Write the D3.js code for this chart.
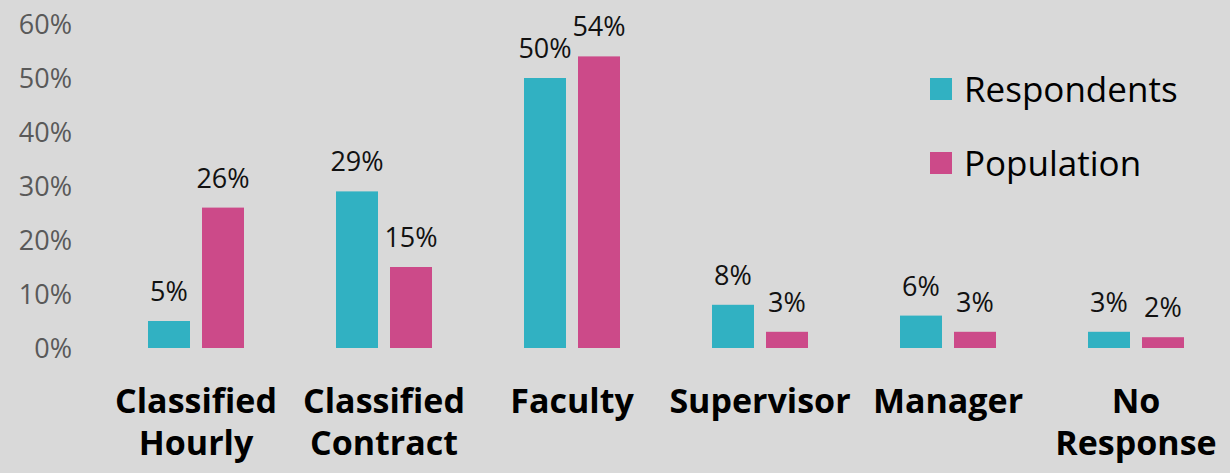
<!DOCTYPE html>
<html>
<head>
<meta charset="utf-8">
<script src="https://cdn.jsdelivr.net/npm/d3@7/dist/d3.min.js"></script>
<style>
  html, body { margin: 0; padding: 0; background: #d9d9d9; }
  svg { display: block; }
</style>
</head>
<body>
<svg id="chart" width="1230" height="473"></svg>
<script>
// Staff categories (multi-line labels split on "\n")
const categories = ["Classified\nHourly", "Classified\nContract", "Faculty", "Supervisor", "Manager", "No\nResponse"];
const seriesNames = ["Respondents", "Population"];
const respondents = [5, 29, 50, 8, 6, 3];
const population = [26, 15, 54, 3, 3, 2];
const yTicks = [0, 10, 20, 30, 40, 50, 60];

const colors = { Respondents: "#31b1c2", Population: "#cc4a89" };
const fontFamily = "'Open Sans', 'Noto Sans', sans-serif";

const svg = d3.select("#chart");
const W = 1230, H = 473;

svg.append("rect").attr("width", W).attr("height", H).attr("fill", "#d9d9d9");

const x0 = d3.scaleBand().domain(d3.range(categories.length)).range([102, 1230]).padding(0);
const x1 = d3.scaleBand().domain(seriesNames).range([0, 96]).paddingInner(12 / 54).paddingOuter(0);
const y = d3.scaleLinear().domain([0, 60]).range([348, 24]);

const groupOffset = (x0.bandwidth() - 96) / 2;

// Y axis: labels only
const yAxis = d3.axisLeft(y).tickValues(yTicks).tickFormat(d => d + "%").tickSize(0).tickPadding(0);
const yg = svg.append("g").attr("transform", "translate(72,0)").call(yAxis);
yg.select(".domain").remove();
yg.selectAll("text")
  .attr("fill", "#595959")
  .style("font-family", fontFamily)
  .style("font-size", "27px")
  .attr("dy", "0.34em");

const rows = categories.map((c, i) => ({ i, values: [
  { key: "Respondents", value: respondents[i] },
  { key: "Population", value: population[i] }
]}));

const groups = svg.append("g").selectAll("g.grp")
  .data(rows).join("g")
  .attr("class", "grp")
  .attr("transform", d => `translate(${x0(d.i) + groupOffset},0)`);

groups.selectAll("rect")
  .data(d => d.values).join("rect")
  .attr("x", d => x1(d.key))
  .attr("y", d => y(d.value))
  .attr("width", x1.bandwidth())
  .attr("height", d => y(0) - y(d.value))
  .attr("fill", d => colors[d.key]);

groups.selectAll("text.val")
  .data(d => d.values).join("text")
  .attr("class", "val")
  .attr("x", d => x1(d.key) + x1.bandwidth() / 2)
  .attr("y", d => y(d.value) - 20)
  .attr("text-anchor", "middle")
  .attr("fill", "#111")
  .style("font-family", fontFamily)
  .style("font-size", "27px")
  .text(d => d.value + "%");

// X axis category labels
const xAxis = d3.axisBottom(x0).tickSize(0).tickFormat(() => "");
const xg = svg.append("g").attr("transform", "translate(0,348)").call(xAxis);
xg.select(".domain").remove();
xg.selectAll(".tick").each(function (d) {
  const lines = categories[d].split("\n");
  const t = d3.select(this).append("text")
    .attr("text-anchor", "middle")
    .attr("fill", "#000")
    .style("font-family", fontFamily)
    .style("font-weight", "700")
    .style("font-size", "34px");
  lines.forEach((ln, k) => {
    t.append("tspan").attr("x", 0).attr("y", 65 + k * 42).text(ln);
  });
});

// Legend
const legend = svg.append("g").attr("transform", "translate(930,78)");
const li = legend.selectAll("g").data(seriesNames).join("g")
  .attr("transform", (d, i) => `translate(0,${i * 74})`);
li.append("rect").attr("width", 22).attr("height", 22).attr("fill", d => colors[d]);
li.append("text")
  .attr("x", 34).attr("y", 24)
  .attr("fill", "#000")
  .style("font-family", fontFamily)
  .style("font-size", "35px")
  .text(d => d);
</script>
</body>
</html>
